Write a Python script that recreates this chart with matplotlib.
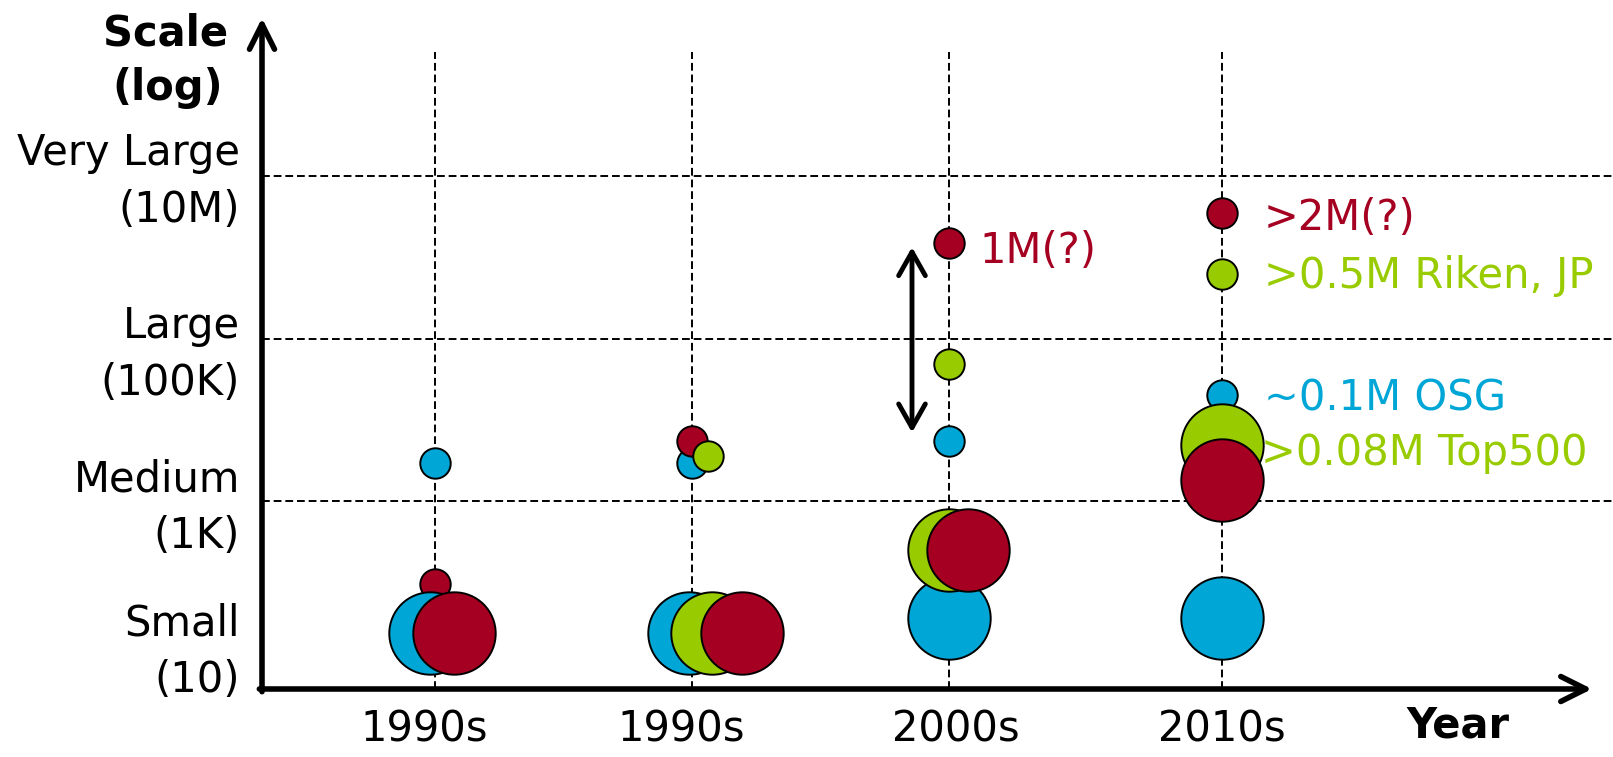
import matplotlib
matplotlib.use("Agg")
import matplotlib.pyplot as plt
from matplotlib.patches import FancyArrowPatch

plt.rcParams['font.family'] = ['DejaVu Sans']

# decades along the time axis
decades = ['1990s', '1990s', '2000s', '2010s']

# names of the scale bands on the log axis
band_names = ['Small', 'Medium', 'Large', 'Very Large']
band_counts = ['(10)', '(1K)', '(100K)', '(10M)']
band_lines = [1e3, 1e5, 1e7]

# typical system size per decade (big bubbles), None = not present
typical_blue = [24, 24, 36, 36]
typical_green = [None, 24, 250, 4900]
typical_red = [24, 24, 250, 1800]

# largest systems per decade (small bubbles)
largest_blue = [2900, 2900, 5500, 20000]
largest_green = [None, 3600, 48000, 620000]
largest_red = [95, 5500, 1.5e6, 3.5e6]

notes_2000s_red = '1M(?)'
notes_2010s = {'red': '>2M(?)', 'green': '>0.5M Riken, JP',
               'blue': '~0.1M OSG', 'green_typ': '>0.08M Top500'}

BLUE = '#00A6D6'
GREEN = '#99CC00'
RED = '#A50021'

W, H = 1613, 757
fig = plt.figure(figsize=(W / 100, H / 100), dpi=100)

# axes box runs from the origin corner to the arrow tips
x0, x1 = 262, 1592
y0, y1 = 689, 18
ax = fig.add_axes([x0 / W, 1 - y0 / H, (x1 - x0) / W, (y0 - y1) / H])
ax.set_yscale('log')
col_px = 257.0
ax.set_xlim(1 + (x0 - 435) / col_px, 1 + (x1 - 435) / col_px)
dec = 81.25
ax.set_ylim(10 ** (3 + (501 - y0) / dec), 10 ** (3 + (501 - y1) / dec))
ax.axis('off')

cols = [1, 2, 3, 4.062]

# dashed guide lines
dash = (0, (4, 2))
for c in cols:
    ax.axvline(c, ymin=0, ymax=(y0 - 52) / (y0 - y1), color='black',
               lw=1.4, linestyle=dash, zorder=1)
for v in band_lines:
    ax.axhline(v, xmin=0, xmax=(W - x0) / (x1 - x0), color='black',
               lw=1.4, linestyle=dash, zorder=1, clip_on=False)

# horizontal nudges (px) so overlapping bubbles stay visible
off_big = {'blue': [-5, -3, 0, 0], 'green': [0, 20, 0, 0], 'red': [19.5, 50, 19.5, 0]}
off_small = {'blue': [0, 0, 0, 0], 'green': [0, 16, 0, 0], 'red': [0, 0, 0, 0]}

big = {'blue': typical_blue, 'green': typical_green, 'red': typical_red}
small = {'blue': largest_blue, 'green': largest_green, 'red': largest_red}
colors = {'blue': BLUE, 'green': GREEN, 'red': RED}

S_BIG = 3520
S_SMALL = 480

for i, c in enumerate(cols):
    for name in ['blue', 'red', 'green']:
        v = small[name][i]
        if v is None:
            continue
        ax.scatter(c + off_small[name][i] / col_px, v, s=S_SMALL,
                   color=colors[name], edgecolors='black', linewidths=1.4,
                   zorder=3, clip_on=False)
    for name in ['blue', 'green', 'red']:
        v = big[name][i]
        if v is None:
            continue
        ax.scatter(c + off_big[name][i] / col_px, v, s=S_BIG,
                   color=colors[name], edgecolors='black', linewidths=1.4,
                   zorder=3, clip_on=False)

# axis arrows
for a, b in [((0, -0.004), (0, 1)), ((-0.002, 0), (1, 0))]:
    ax.add_patch(FancyArrowPatch(a, b, transform=ax.transAxes,
                                 arrowstyle='->,head_length=0.9,head_width=0.45',
                                 mutation_scale=20, lw=4, color='black',
                                 shrinkA=0, shrinkB=0, capstyle='round',
                                 joinstyle='round', clip_on=False, zorder=4))

# range arrow for the 2000s
ax_x = cols[2] - 37 / col_px
ax.add_patch(FancyArrowPatch((ax_x, largest_red[2]), (ax_x, largest_blue[2]),
                             arrowstyle='<->,head_length=0.85,head_width=0.48',
                             mutation_scale=20, lw=3.5, color='black',
                             shrinkA=3, shrinkB=6, capstyle='round',
                             joinstyle='round', zorder=4))

FS = 30
ax.annotate(notes_2000s_red, (cols[2], largest_red[2]), xytext=(21.6, -14.4),
            textcoords='offset points', color=RED, fontsize=FS,
            ha='left', va='baseline', zorder=2)
ax.annotate(notes_2010s['red'], (cols[3], largest_red[3]), xytext=(30.2, -12.2),
            textcoords='offset points', color=RED, fontsize=FS,
            ha='left', va='baseline', zorder=2)
ax.annotate(notes_2010s['green'], (cols[3], largest_green[3]), xytext=(30.2, -10.1),
            textcoords='offset points', color=GREEN, fontsize=FS,
            ha='left', va='baseline', zorder=2, annotation_clip=False)
ax.annotate(notes_2010s['blue'], (cols[3], largest_blue[3]), xytext=(30.2, -10.8),
            textcoords='offset points', color=BLUE, fontsize=FS,
            ha='left', va='baseline', zorder=2)
ax.annotate(notes_2010s['green_typ'], (cols[3], typical_green[3]), xytext=(28.1, -14.4),
            textcoords='offset points', color=GREEN, fontsize=FS,
            ha='left', va='baseline', zorder=2)


def fx(px):
    return px / W


def fy(py):
    return 1 - py / H


# decade labels under the time axis
dec_label_x = [424, 681, 956, 1222]
for lab, px in zip(decades, dec_label_x):
    fig.text(fx(px), fy(741), lab, fontsize=FS, ha='center', va='baseline')

# scale band labels left of the value axis
band_base = [(635, 692), (491, 548), (338, 395), (165, 222)]
for name, cnt, (b1, b2) in zip(band_names, band_counts, band_base):
    fig.text(fx(240), fy(b1), name, fontsize=FS, ha='right', va='baseline')
    fig.text(fx(240), fy(b2), cnt, fontsize=FS, ha='right', va='baseline')

fig.text(fx(166), fy(45), 'Scale', fontsize=FS, fontweight='bold',
         ha='center', va='baseline')
fig.text(fx(168), fy(100), '(log)', fontsize=FS, fontweight='bold',
         ha='center', va='baseline')
fig.text(fx(1458), fy(747), 'Year', fontsize=FS, fontweight='bold',
         ha='center', va='bottom')

fig.savefig('out.png', dpi=100, facecolor='white')
